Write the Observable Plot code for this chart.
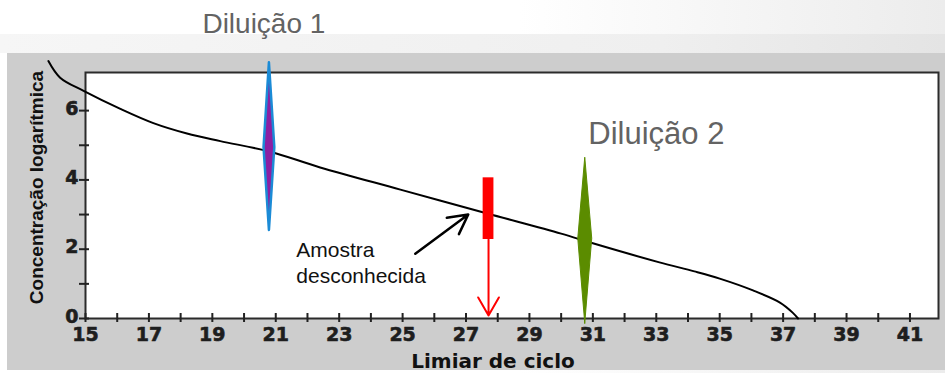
<!DOCTYPE html>
<html>
<head>
<meta charset="utf-8">
<script src="https://cdn.jsdelivr.net/npm/d3@7"></script>
<script src="https://cdn.jsdelivr.net/npm/@observablehq/plot@0.6"></script>
<style>
  html, body { margin: 0; padding: 0; }
  body {
    width: 945px; height: 373px; position: relative; overflow: hidden;
    background: linear-gradient(to right, #ffffff 0%, #ffffff 55%, #ececec 100%);
  }
  #band { position: absolute; left: 0; top: 34px; width: 945px; height: 19px;
    background: linear-gradient(to right, #f6f6f6, #efefef 70%, #e4e4e4); }
  #panel { position: absolute; left: 7px; top: 53px; width: 938px; height: 317px; background: #cdcdcd; }
  #chart { position: absolute; left: 0; top: 0; }
</style>
</head>
<body>
<div id="band"></div>
<div id="panel"></div>
<div id="chart"></div>
<script>
// Standard curve: threshold cycle vs log concentration
const curveCycle = [13.83, 14.2, 14.94, 16.1, 17.14, 18.2, 19.25, 20.8, 22.4, 24.93, 27.67, 30.0, 31.0, 33.1, 34.2, 35.0, 36.05, 36.9, 37.3, 37.47];
const curveLogConc = [7.43, 6.95, 6.57, 6.05, 5.64, 5.34, 5.12, 4.82, 4.36, 3.72, 3.03, 2.45, 2.17, 1.62, 1.36, 1.15, 0.81, 0.46, 0.17, 0];

// Dilutions (diamonds)
const dilutionNames = ["Diluição 1", "Diluição 2"];
const dilutionCycle = [20.8, 30.76];
const dilutionLow = [2.54, -0.15];
const dilutionMid = [4.93, 2.3];
const dilutionHigh = [7.38, 4.64];
const dilutionSpread = [0.17, 0.22];

// Unknown sample
const sampleName = "Amostra\ndesconhecida";
const sampleCycle = 27.71;
const sampleSpread = 0.17;
const sampleLow = 2.28;
const sampleHigh = 4.06;
const sampleAxisValue = 0.09;
const pointerFrom = [25.4, 1.87];
const pointerTo = [27.07, 3.0];

// Ticks
const xTicks = [15,16,17,18,19,20,21,22,23,24,25,26,27,28,29,30,31,32,33,34,35,36,37,38,39,40,41];
const xTickLabels = [15,17,19,21,23,25,27,29,31,33,35,37,39,41];
const yTicks = [0,1,2,3,4,5,6];
const yTickLabels = [0,2,4,6];

const curve = curveCycle.map((c, i) => ({x: curveCycle[i], y: curveLogConc[i]}));
const diamonds = dilutionNames.map((name, i) => [
  {name, y: dilutionLow[i], x1: dilutionCycle[i], x2: dilutionCycle[i]},
  {name, y: dilutionMid[i], x1: dilutionCycle[i] - dilutionSpread[i], x2: dilutionCycle[i] + dilutionSpread[i]},
  {name, y: dilutionHigh[i], x1: dilutionCycle[i], x2: dilutionCycle[i]}
]);
const tops = dilutionNames.map((name, i) => ({name, x: dilutionCycle[i], y: dilutionHigh[i]}));

const tickFont = "DejaVu Sans, Verdana, sans-serif";
const arial = "Liberation Sans, Arial, sans-serif";

const chart = Plot.plot({
  width: 945,
  height: 373,
  marginLeft: 85,
  marginRight: 7,
  marginTop: 72,
  marginBottom: 55,
  style: {background: "transparent", overflow: "visible"},
  x: {domain: [15, 41.9]},
  y: {domain: [0, 7.1]},
  marks: [
    Plot.frame({fill: "white", stroke: "#2b2b2b", strokeWidth: 2}),
    Plot.axisX(xTicks, {tickSize: 9, dy: -5, fill: "none", stroke: "#222", strokeWidth: 2, label: null}),
    Plot.axisX(xTickLabels, {tickSize: 0, tickPadding: 9, stroke: "none", fill: "#1e1e1e", textStroke: "#1e1e1e", textStrokeWidth: 0.6, fontSize: 19, fontWeight: "bold", fontFamily: tickFont, label: null}),
    Plot.axisY(yTicks, {tickSize: 10, dx: 4, fill: "none", stroke: "#222", strokeWidth: 2, label: null}),
    Plot.axisY(yTickLabels, {tickSize: 0, tickPadding: 7, dy: -2, stroke: "none", fill: "#1e1e1e", textStroke: "#1e1e1e", textStrokeWidth: 0.6, fontSize: 19, fontWeight: "bold", fontFamily: tickFont, label: null}),
    Plot.line(curve, {x: "x", y: "y", stroke: "black", strokeWidth: 2, curve: "catmull-rom", clip: false}),
    Plot.areaX(diamonds[0], {y: "y", x1: "x1", x2: "x2", fill: "#8c1fa3", stroke: "#1b8bd6", strokeWidth: 2.5, strokeLinejoin: "round"}),
    Plot.areaX(diamonds[1], {y: "y", x1: "x1", x2: "x2", fill: "#5b8c00", stroke: "#5b8c00", strokeWidth: 1, strokeLinejoin: "round"}),
    Plot.rect([{x1: sampleCycle - sampleSpread, x2: sampleCycle + sampleSpread, y1: sampleLow, y2: sampleHigh}], {x1: "x1", x2: "x2", y1: "y1", y2: "y2", fill: "#ff0000"}),
    Plot.arrow([{x1: sampleCycle, y1: sampleLow, x2: sampleCycle, y2: sampleAxisValue}], {x1: "x1", y1: "y1", x2: "x2", y2: "y2", stroke: "#ff0000", strokeWidth: 2, headLength: 15.5, headAngle: 60}),
    Plot.arrow([{x1: pointerFrom[0], y1: pointerFrom[1], x2: pointerTo[0], y2: pointerTo[1]}], {x1: "x1", y1: "y1", x2: "x2", y2: "y2", stroke: "black", strokeWidth: 2.5, headLength: 13, headAngle: 56}),
    Plot.text([tops[0]], {x: "x", y: "y", text: "name", dx: -67, dy: -30, textAnchor: "start", lineAnchor: "bottom", fontSize: 28, fontFamily: arial, fill: "#636363"}),
    Plot.text([tops[1]], {x: "x", y: "y", text: "name", dx: 3, dy: -14, textAnchor: "start", lineAnchor: "bottom", fontSize: 31, fontFamily: arial, fill: "#636363"}),
    Plot.text([{x: pointerFrom[0], y: pointerFrom[1], t: sampleName}], {x: "x", y: "y", text: "t", dx: -119, dy: 29, textAnchor: "start", lineAnchor: "bottom", lineHeight: 1.24, fontSize: 21, fontFamily: arial, fill: "#111"}),
    Plot.text(["Limiar de ciclo"], {frameAnchor: "bottom", dx: -19, dy: 49, textAnchor: "middle", lineAnchor: "bottom", fontSize: 20, fontWeight: "bold", fontFamily: tickFont, fill: "#111"}),
    Plot.text(["Concentração logarítmica"], {frameAnchor: "left", dx: -49, dy: -8, rotate: -90, textAnchor: "middle", lineAnchor: "middle", fontSize: 19, fontWeight: "bold", fontFamily: arial, fill: "#111"})
  ]
});
document.getElementById("chart").appendChild(chart);
</script>
</body>
</html>
